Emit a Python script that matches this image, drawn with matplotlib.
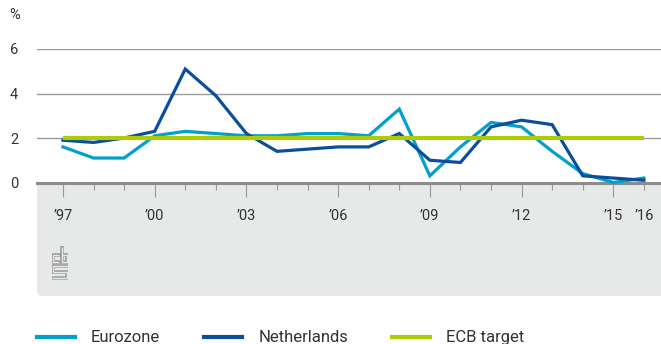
import matplotlib
matplotlib.use("Agg")
import matplotlib.pyplot as plt
from matplotlib.patches import FancyBboxPatch, Rectangle
from matplotlib.lines import Line2D
from matplotlib.ticker import FixedLocator, FixedFormatter

plt.rcParams['font.family'] = ['Roboto', 'DejaVu Sans']

# inflation (HICP), % year on year
years = list(range(1997, 2017))
eurozone = [1.6, 1.1, 1.1, 2.1, 2.3, 2.2, 2.1, 2.1, 2.2, 2.2,
            2.1, 3.3, 0.3, 1.6, 2.7, 2.5, 1.4, 0.4, 0.0, 0.2]
netherlands = [1.9, 1.8, 2.0, 2.3, 5.1, 3.9, 2.2, 1.4, 1.5, 1.6,
               1.6, 2.2, 1.0, 0.9, 2.5, 2.8, 2.6, 0.3, 0.2, 0.1]
ecb_target = [2.0] * len(years)

major_years = [1997, 2000, 2003, 2006, 2009, 2012, 2015]
major_labels = ["\u201997", "\u201900", "\u201903", "\u201906",
                "\u201909", "\u201912", "\u201915"]
minor_years = [y for y in years if y not in major_years]
minor_labels = ["\u201916" if y == 2016 else "" for y in minor_years]

C_EURO = "#00a1cd"
C_NL = "#0a4f9e"
C_ECB = "#afcb05"
C_GRID = "#9a9a9a"
C_PANEL = "#e7e8e8"
C_TEXT = "#333333"

W, H = 661, 344
fig = plt.figure(figsize=(W / 100, H / 100), dpi=100)

# grey panel under the axis (rounded bottom-left corner)
px = fig.dpi_scale_trans
panel = FancyBboxPatch((0.37, 0.48), 6.5, 1.13,
                       boxstyle="round,pad=0,rounding_size=0.06",
                       transform=px, facecolor=C_PANEL, edgecolor="none",
                       zorder=0)
panel_top = Rectangle((0.37, 1.0), 6.5, 0.61, transform=px,
                      facecolor=C_PANEL, edgecolor="none", zorder=0)
fig.patches.extend([panel, panel_top])

ax = fig.add_axes([37 / W, (H - 182.5) / H, 1 - 37 / W, (182.5 - 49) / H])
ax.set_facecolor("white")
ax.set_zorder(1)

ax.plot(years, eurozone, color=C_EURO, lw=2.3, clip_on=False,
        solid_joinstyle="miter", label="Eurozone", zorder=3)
ax.plot(years, netherlands, color=C_NL, lw=2.3, clip_on=False,
        solid_joinstyle="miter", label="Netherlands", zorder=4)
ax.plot(years, ecb_target, color=C_ECB, lw=3.0, clip_on=False,
        solid_capstyle="butt", label="ECB target", zorder=5)

ax.set_xlim(1996.15, 2016.56)
ax.set_ylim(0, 6)
ax.set_yticks([0, 2, 4, 6])
ax.yaxis.grid(True, color=C_GRID, lw=1.0)
ax.set_axisbelow(True)

for s in ["top", "right", "left"]:
    ax.spines[s].set_visible(False)
ax.spines["bottom"].set_color("#8c8c8c")
ax.spines["bottom"].set_linewidth(2.2)
ax.spines["bottom"].set_zorder(2)

ax.tick_params(axis="y", length=0, pad=19.4, labelsize=10.5,
               labelcolor=C_TEXT)
for lab in ax.get_yticklabels():
    lab.set_horizontalalignment("left")

ax.xaxis.set_major_locator(FixedLocator(major_years))
ax.xaxis.set_major_formatter(FixedFormatter(major_labels))
ax.xaxis.set_minor_locator(FixedLocator(minor_years))
ax.xaxis.set_minor_formatter(FixedFormatter(minor_labels))
ax.tick_params(axis="x", which="major", length=10.4, width=0.8,
               color=C_GRID, pad=9, labelsize=10.5, labelcolor=C_TEXT)
ax.tick_params(axis="x", which="minor", length=5.0, width=0.8,
               color=C_GRID, pad=14.4, labelsize=10.5, labelcolor=C_TEXT)

fig.text(15 / W, 1 - 15 / H, "%", ha="center", va="center",
         fontsize=10.5, color=C_TEXT)

# cbs logo, drawn as double-outlined strokes
lax = fig.add_axes([52 / W, (H - 280) / H, 16 / W, 34 / H])
lax.set_zorder(2)
lax.set_xlim(-0.5, 16.5)
lax.set_ylim(33, -1)
lax.axis("off")
strokes = [
    ([7, 1, 1, 7], [8, 8, 15, 15]),
    ([10, 10, 15, 15, 10], [0, 15, 15, 8, 8]),
    ([16, 1, 1, 15, 15, 0], [19, 19, 25, 25, 31, 31]),
]
for xs, ys in strokes:
    lax.plot(xs, ys, color="#9d9d9d", lw=2.6, solid_joinstyle="miter",
             solid_capstyle="projecting")
    lax.plot(xs, ys, color=C_PANEL, lw=1.0, solid_joinstyle="miter",
             solid_capstyle="butt")

handles = [Line2D([], [], color=C_EURO, lw=3.0),
           Line2D([], [], color=C_NL, lw=3.0),
           Line2D([], [], color=C_ECB, lw=3.0)]
fig.legend(handles, ["Eurozone", "Netherlands", "ECB target"],
           loc="lower left", bbox_to_anchor=(37 / W, -0.004), ncol=3,
           frameon=False, fontsize=12, borderpad=0, borderaxespad=0,
           handlelength=2.28, handletextpad=0.96, columnspacing=2.65,
           labelcolor=C_TEXT)

fig.savefig("out.png", dpi=100)
